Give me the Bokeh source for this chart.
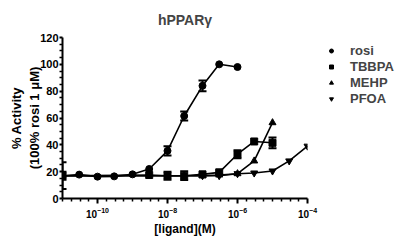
from bokeh.plotting import figure
from bokeh.layouts import row
from bokeh.models import Range1d, FixedTicker, Whisker, ColumnDataSource, Legend, LegendItem, Title, LogTickFormatter
from bokeh.embed import file_html
from bokeh.resources import INLINE

# ---- data ----
rosi_conc = [1e-11, 3e-11, 1e-10, 3e-10, 1e-9, 3e-9, 1e-8, 3e-8, 1e-7, 3e-7, 1e-6]
rosi_val = [17, 17.8, 16.3, 16.5, 18, 22, 35.5, 61.5, 84, 100, 98]
rosi_err = [10, 0, 0, 0, 0, 0, 3.5, 3.3, 4, 0, 0]

tbbpa_conc = [1e-11, 3e-9, 1e-8, 3e-8, 1e-7, 3e-7, 1e-6, 3e-6, 1e-5]
tbbpa_val = [17, 17.5, 17, 17, 18, 19.5, 33, 42.5, 41.5]
tbbpa_err = [3, 0, 3, 3.3, 0, 0, 3, 0, 4]

mehp_conc = [1e-11, 1e-7, 3e-7, 1e-6, 3e-6, 1e-5]
mehp_val = [17, 17, 17.5, 18.5, 28, 56.5]

pfoa_conc = [1e-11, 1e-7, 3e-7, 1e-6, 3e-6, 1e-5, 3e-5, 1e-4]
pfoa_val = [17, 17, 17, 18.5, 19, 20.5, 28, 39]

series_names = ["rosi", "TBBPA", "MEHP", "PFOA"]
series_markers = ["circle", "square", "triangle", "inverted_triangle"]

x_major = [1e-10, 1e-8, 1e-6, 1e-4]
y_major = [0, 20, 40, 60, 80, 100, 120]

FONT = "Liberation Sans"

p = figure(width=321, height=241, x_axis_type="log",
           x_range=Range1d(1e-11, 1e-4), y_range=Range1d(0, 120),
           output_backend="svg", toolbar_location=None,
           min_border_left=62, min_border_right=14, min_border_top=36, min_border_bottom=43)

p.title = Title(text="hPPARγ", align="center",
                text_font=FONT, text_font_size="14px", text_font_style="bold", standoff=19)

p.grid.visible = False
p.outline_line_color = None
p.background_fill_color = "white"

minor = [10 ** (k * 0.25) for k in range(-44, -15) if k % 8 != 0]
p.xaxis.ticker = FixedTicker(ticks=x_major, minor_ticks=minor)
p.xaxis.formatter = LogTickFormatter()
p.yaxis.ticker = FixedTicker(ticks=y_major, minor_ticks=[v for v in range(0, 121, 5) if v % 20 != 0])

for ax in (p.xaxis[0], p.yaxis[0]):
    ax.axis_line_width = 2
    ax.major_tick_line_width = 2
    ax.minor_tick_line_width = 1.5
    ax.major_tick_out = 5
    ax.major_tick_in = 0
    ax.minor_tick_out = 3
    ax.minor_tick_in = 0
    ax.major_label_text_font = FONT
    ax.major_label_text_font_style = "bold"
    ax.major_label_text_font_size = "11px"
    ax.major_label_text_color = "black"
    ax.axis_label_text_font = FONT
    ax.axis_label_text_font_style = "bold"
    ax.axis_label_text_font_size = "12px"
    ax.axis_label_text_color = "black"

p.yaxis.major_tick_out = 3
p.yaxis.axis_label_text_font_size = "13px"
p.xaxis.major_label_text_font_size = "10px"
p.xaxis.axis_label = "[ligand](M)"
p.yaxis.axis_label = "% Activity\n(100% rosi 1 μM)"
p.xaxis.major_label_standoff = 3
p.yaxis.major_label_standoff = 1
p.yaxis.axis_label_standoff = -5
p.xaxis.axis_label_standoff = 1


def series(conc, val, err, marker, size=7):
    src = ColumnDataSource(dict(x=conc, y=val))
    p.line("x", "y", source=src, line_color="black", line_width=1.6)
    if any(e > 0 for e in err):
        esrc = ColumnDataSource(dict(x=[c for c, e in zip(conc, err) if e > 0],
                                     lo=[v - e for v, e in zip(val, err) if e > 0],
                                     hi=[v + e for v, e in zip(val, err) if e > 0]))
        w = Whisker(base="x", lower="lo", upper="hi", source=esrc,
                    line_color="black", line_width=2)
        w.upper_head.size = 8
        w.lower_head.size = 8
        w.upper_head.line_width = 2
        w.lower_head.line_width = 2
        p.add_layout(w)
    p.scatter("x", "y", source=src, marker=marker, size=size,
              fill_color="black", line_color="black")


series(rosi_conc, rosi_val, rosi_err, series_markers[0])
series(tbbpa_conc, tbbpa_val, tbbpa_err, series_markers[1])
series(mehp_conc, mehp_val, [0] * len(mehp_val), series_markers[2])
series(pfoa_conc, pfoa_val, [0] * len(pfoa_val), series_markers[3])

# ---- legend panel ----
q = figure(width=76, height=241, x_range=Range1d(0, 1), y_range=Range1d(0, 1),
           output_backend="svg", toolbar_location=None,
           min_border=0, x_axis_location=None, y_axis_location=None)
q.grid.visible = False
q.outline_line_color = None
items = []
for name, mk in zip(series_names, series_markers):
    r = q.scatter(x=[-5], y=[-5], marker=mk, size=7, fill_color="black", line_color="black")
    items.append(LegendItem(label=name, renderers=[r]))

legend = Legend(items=items, location=(5, 92), border_line_color=None,
                background_fill_alpha=0, label_text_font=FONT,
                label_text_font_style="bold", label_text_font_size="13px",
                glyph_width=10, glyph_height=15, label_standoff=14, spacing=1,
                padding=0, margin=0, label_height=15)
q.add_layout(legend, "center")

layout = row(p, q, spacing=0)
open("out.html", "w").write(file_html(layout, INLINE))
